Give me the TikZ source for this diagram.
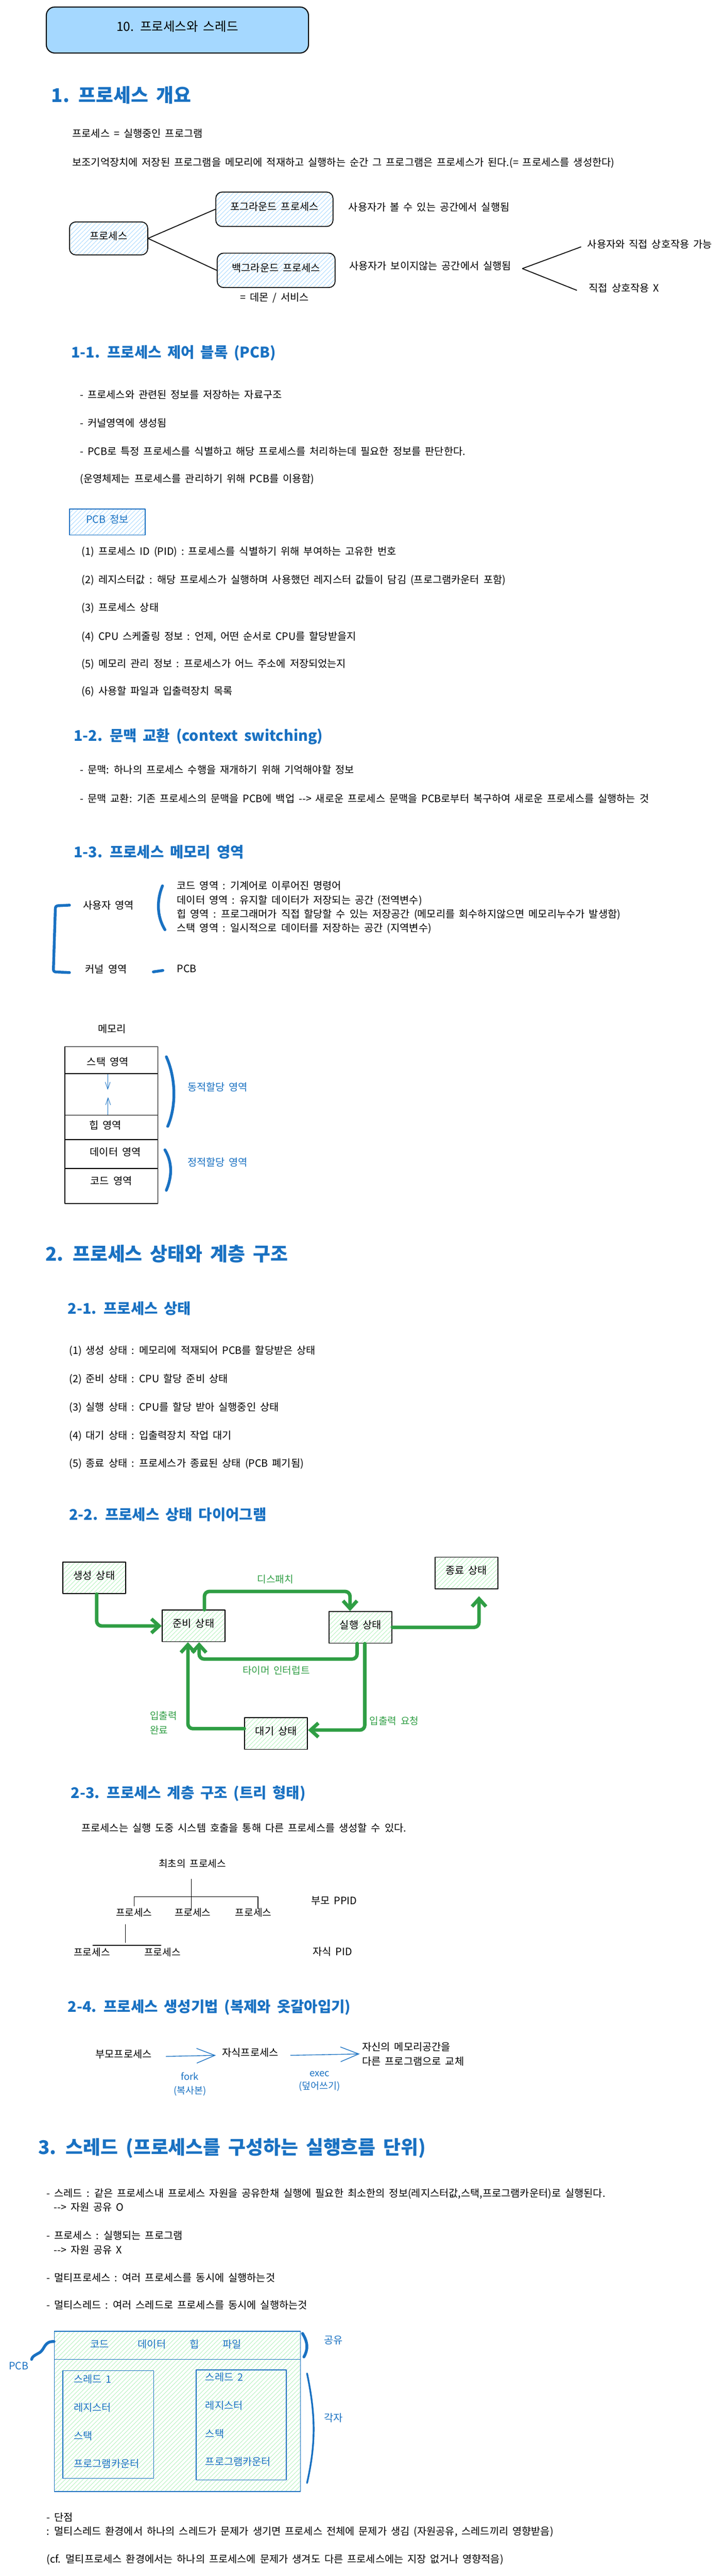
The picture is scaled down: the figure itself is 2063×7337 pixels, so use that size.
\documentclass[tikz,border=0pt]{standalone}
\usepackage{fontspec}
\setmainfont{Noto Sans CJK KR}[WordSpace=1.8]
\usetikzlibrary{arrows.meta,patterns.meta,calc}

\begin{document}
\begin{tikzpicture}[x=1pt, y=-1pt, line width=2.5pt, line join=round,
    base/.style={inner sep=0pt, font=\fontsize{29}{40}\selectfont},
    txt/.style={base, text height=0.85em, text depth=0.1em},
    lft/.style={txt, anchor=west},
    head/.style={lft, text=headcolor, font=\fontsize{54}{60}\selectfont\bfseries},
    subhead/.style={lft, text=headcolor, font=\fontsize{42}{48}\selectfont\bfseries},
    bluetxt/.style={txt, text=headcolor},
    greentxt/.style={txt, text=arrowcolor},
    procbox/.style={txt, draw, rounded corners=18pt, pattern={Lines[angle=45,distance=9pt,line width=1.3pt]}, pattern color=hatchblue},
    statebox/.style={txt, draw, minimum width=179pt, minimum height=90pt, pattern={Lines[angle=45,distance=9pt,line width=1.3pt]}, pattern color=hatchgreen},
    garrow/.style={draw=arrowcolor, line width=10pt, rounded corners=14pt, line cap=round, -{Straight Barb[length=22pt,width=40pt]}},
    barrow/.style={draw=headcolor, line width=2pt, -{Straight Barb[length=52pt,width=42pt]}},
    bluestroke/.style={draw=headcolor, line width=8pt, line cap=round}]
    \definecolor{headcolor}{HTML}{1971C2}
    \definecolor{arrowcolor}{HTML}{2F9E44}
    \definecolor{titlefill}{HTML}{A5D8FF}
    \definecolor{hatchblue}{HTML}{A5D8FF}
    \definecolor{hatchgreen}{HTML}{B2F2BB}

    \path[use as bounding box, fill=white] (0,0) rectangle (2063,7337);

    \node[txt, draw, line width=3pt, fill=titlefill, rounded corners=24pt, minimum width=747pt, minimum height=131pt, font=\fontsize{36}{40}\selectfont] (title) at (505.5,85.5) {10. 프로세스와 스레드};

    % 1. overview
    \node[head] (sec1) at (145,287) {1. 프로세스 개요};
    \node[lft] (procdef) at (205,387) {프로세스 = 실행중인 프로그램};
    \node[lft] (procload) at (205,469) {보조기억장치에 저장된 프로그램을 메모리에 적재하고 실행하는 순간 그 프로그램은 프로세스가 된다.(= 프로세스를 생성한다)};

    \node[procbox, minimum width=223pt, minimum height=94pt] (proc) at (309.5,679) {프로세스};
    \node[procbox, minimum width=334pt, minimum height=98pt] (fg) at (782,596) {포그라운드 프로세스};
    \node[procbox, minimum width=336pt, minimum height=98pt] (bg) at (787,770) {백그라운드 프로세스};
    \draw (proc.east) -- (fg.west);
    \draw (proc.east) -- (bg.west);
    \node[lft] (fgnote) at (992,597) {사용자가 볼 수 있는 공간에서 실행됨};
    \node[lft] (bgnote) at (994,765) {사용자가 보이지않는 공간에서 실행됨};
    \node[txt] (daemon) at (782,854) {= 데몬 / 서비스};
    \node[lft] (inter) at (1673,703) {사용자와 직접 상호작용 가능};
    \node[lft] (nointer) at (1677,827) {직접 상호작용 X};
    \coordinate (split) at ([xshift=30pt]bgnote.east);
    \draw (split) -- ([xshift=-17pt]inter.west);
    \draw (split) -- ([xshift=-33pt]nointer.west);

    % 1-1. PCB
    \node[subhead] (sec11) at (202,1015) {1-1. 프로세스 제어 블록 (PCB)};
    \node[lft] (pcb1) at (227,1131) {- 프로세스와 관련된 정보를 저장하는 자료구조};
    \node[lft] (pcb2) at (227,1212) {- 커널영역에 생성됨};
    \node[lft] (pcb3) at (227,1292) {- PCB로 특정 프로세스를 식별하고 해당 프로세스를 처리하는데 필요한 정보를 판단한다.};
    \node[lft] (pcb4) at (227,1371) {(운영체제는 프로세스를 관리하기 위해 PCB를 이용함)};
    \node[bluetxt, draw=headcolor, minimum width=216pt, minimum height=74pt, pattern={Lines[angle=45,distance=9pt,line width=1.3pt]}, pattern color=hatchblue] (pcbinfo) at (306,1487) {PCB 정보};
    \node[lft] (info1) at (232,1577) {(1) 프로세스 ID (PID) : 프로세스를 식별하기 위해 부여하는 고유한 번호};
    \node[lft] (info2) at (232,1658) {(2) 레지스터값 : 해당 프로세스가 실행하며 사용했던 레지스터 값들이 담김 (프로그램카운터 포함)};
    \node[lft] (info3) at (232,1738) {(3) 프로세스 상태};
    \node[lft] (info4) at (232,1819) {(4) CPU 스케줄링 정보 : 언제, 어떤 순서로 CPU를 할당받을지};
    \node[lft] (info5) at (232,1897) {(5) 메모리 관리 정보 : 프로세스가 어느 주소에 저장되었는지};
    \node[lft] (info6) at (232,1975) {(6) 사용할 파일과 입출력장치 목록};

    % 1-2. context switching
    \node[subhead] (sec12) at (209,2107) {1-2. 문맥 교환 (context switching)};
    \node[lft] (ctx1) at (227,2200) {- 문맥: 하나의 프로세스 수행을 재개하기 위해 기억해야할 정보};
    \node[lft] (ctx2) at (227,2281) {- 문맥 교환: 기존 프로세스의 문맥을 PCB에 백업 -{}-{}> 새로운 프로세스 문맥을 PCB로부터 복구하여 새로운 프로세스를 실행하는 것};

    % 1-3. memory areas
    \node[subhead] (sec13) at (209,2439) {1-3. 프로세스 메모리 영역};
    \node[lft] (userarea) at (235,2585) {사용자 영역};
    \node[lft] (codeline) at (503,2530) {코드 영역 : 기계어로 이루어진 명령어};
    \node[lft] (dataline) at (503,2571) {데이터 영역 : 유지할 데이터가 저장되는 공간 (전역변수)};
    \node[lft] (heapline) at (503,2610) {힙 영역 : 프로그래머가 직접 할당할 수 있는 저장공간 (메모리를 회수하지않으면 메모리누수가 발생함)};
    \node[lft] (stackline) at (503,2650) {스택 영역 : 일시적으로 데이터를 저장하는 공간 (지역변수)};
    \draw[bluestroke] (463,2523) .. controls (446,2565) and (447,2610) .. (470,2648);
    \draw[bluestroke, rounded corners=6pt] (198,2578) -- (158,2580) -- (152,2768) -- (198,2770);
    \node[lft] (kernel) at (242,2768) {커널 영역};
    \draw[bluestroke] (437,2768) -- (464,2764);
    \node[lft] (pcbk) at (503,2766) {PCB};

    \node[txt] (memlabel) at (319,2938) {메모리};
    \draw[line width=2pt] (185,2981) rectangle (450,3428);
    \draw[line width=2pt] (185,3058) -- (450,3058);
    \draw[line width=2pt] (185,3176) -- (450,3176);
    \draw[line width=2pt] (185,3246) -- (450,3246);
    \draw[line width=2pt] (185,3328) -- (450,3328);
    \node[txt] (stackarea) at (307,3032) {스택 영역};
    \node[txt] (heaparea) at (300,3212) {힙 영역};
    \node[txt] (dataarea) at (329,3289) {데이터 영역};
    \node[txt] (codearea) at (317,3371) {코드 영역};
    \coordinate (stacktop) at (307,3059);
    \coordinate (stackend) at (307,3104);
    \coordinate (heaptop) at (308,3175);
    \coordinate (heapend) at (308,3125);
    \draw[draw=headcolor, line width=1.3pt, -{Straight Barb[length=20pt,width=14pt]}] (stacktop) -- (stackend);
    \draw[draw=headcolor, line width=1.3pt, -{Straight Barb[length=20pt,width=14pt]}] (heaptop) -- (heapend);
    \draw[bluestroke] (474,3010) .. controls (501,3070) and (503,3150) .. (478,3208);
    \draw[bluestroke] (470,3275) .. controls (491,3310) and (491,3350) .. (474,3390);
    \node[bluetxt, anchor=west] (dyn) at (533,3104) {동적할당 영역};
    \node[bluetxt, anchor=west] (static) at (533,3318) {정적할당 영역};

    % 2. states
    \node[head] (sec2) at (128,3587) {2. 프로세스 상태와 계층 구조};
    \node[subhead] (sec21) at (192,3739) {2-1. 프로세스 상태};
    \node[lft] (st1) at (196,3853) {(1) 생성 상태 : 메모리에 적재되어 PCB를 할당받은 상태};
    \node[lft] (st2) at (196,3934) {(2) 준비 상태 : CPU 할당 준비 상태};
    \node[lft] (st3) at (196,4014) {(3) 실행 상태 : CPU를 할당 받아 실행중인 상태};
    \node[lft] (st4) at (196,4095) {(4) 대기 상태 : 입출력장치 작업 대기};
    \node[lft] (st5) at (196,4175) {(5) 종료 상태 : 프로세스가 종료된 상태 (PCB 폐기됨)};

    % 2-2. state diagram
    \node[subhead] (sec22) at (196,4326) {2-2. 프로세스 상태 다이어그램};
    \node[statebox] (new) at (268.5,4494) {생성 상태};
    \node[statebox] (ready) at (551.5,4631) {준비 상태};
    \node[statebox] (run) at (1027.5,4635) {실행 상태};
    \node[statebox] (done) at (1329,4480) {종료 상태};
    \node[statebox] (wait) at (787,4937.5) {대기 상태};
    \draw[garrow] ([xshift=7pt]new.south) |- (ready.west);
    \draw[garrow] ([xshift=31pt]ready.north) -- ++(0,-52) -| ([xshift=-30pt]run.north);
    \draw[garrow, shorten >=20pt] (run.east) -| ([xshift=36pt]done.south);
    \draw[garrow] ([xshift=-10pt]run.south) -- ++(0,44) -| ([xshift=16pt]ready.south);
    \draw[garrow] ([xshift=12pt]run.south) |- ($(wait.east)+(0,-10)$);
    \draw[garrow] ($(wait.west)+(0,-14)$) -| ([xshift=-16pt]ready.south);
    \node[greentxt, font=\fontsize{28}{40}\selectfont] (dispatch) at (785,4505) {디스패치};
    \node[greentxt, font=\fontsize{28}{40}\selectfont] (timer) at (787,4765) {타이머 인터럽트};
    \node[greentxt, anchor=west, font=\fontsize{28}{40}\selectfont] (ioreq) at (1052,4909) {입출력 요청};
    \node[base, text=arrowcolor, anchor=west, align=left, font=\fontsize{28}{40}\selectfont] (iodone) at (426,4907) {입출력\\완료};

    % 2-3. tree
    \node[subhead] (sec23) at (201,5118) {2-3. 프로세스 계층 구조 (트리 형태)};
    \node[lft] (spawn) at (231,5213) {프로세스는 실행 도중 시스템 호출을 통해 다른 프로세스를 생성할 수 있다.};
    \node[txt, font=\fontsize{28}{40}\selectfont] (root) at (548,5315) {최초의 프로세스};
    \node[txt, font=\fontsize{28}{40}\selectfont] (c1) at (382,5454) {프로세스};
    \node[txt, font=\fontsize{28}{40}\selectfont] (c2) at (549,5454) {프로세스};
    \node[txt, font=\fontsize{28}{40}\selectfont] (c3) at (722,5454) {프로세스};
    \node[txt, font=\fontsize{28}{40}\selectfont] (g1) at (262,5567) {프로세스};
    \node[txt, font=\fontsize{28}{40}\selectfont] (g2) at (463,5567) {프로세스};
    \draw[line width=1.5pt] ([xshift=-3pt,yshift=-30pt]root.south) -- ([xshift=-4pt,yshift=7pt]c2.north);
    \draw[line width=2pt] ([yshift=18pt]c1.north) -- ++(0,-28) -- ([xshift=13pt,yshift=46pt]c3.north) -- ([xshift=13pt,yshift=12pt]c3.north);
    \draw[line width=1.5pt] ([xshift=-25pt,yshift=-21pt]c1.south) -- ++(0,52);
    \draw[line width=2pt] ([xshift=2pt,yshift=20pt]g1.north) -- ([xshift=-3pt,yshift=20pt]g2.north);
    \node[lft] (ppid) at (886,5420) {부모 PPID};
    \node[lft] (pid) at (890,5566) {자식 PID};

    % 2-4. fork / exec
    \node[subhead] (sec24) at (192,5727) {2-4. 프로세스 생성기법 (복제와 옷갈아입기)};
    \node[lft] (parent) at (271,5857) {부모프로세스};
    \node[lft] (child) at (632,5854) {자식프로세스};
    \node[base, anchor=west, align=left, font=\fontsize{29}{41}\selectfont] (replace) at (1031,5850) {자신의 메모리공간을\\다른 프로그램으로 교체};
    \draw[barrow] ([xshift=39pt]parent.east) -- ([xshift=-17pt]child.west);
    \draw[barrow] ([xshift=33pt]child.east) -- ([xshift=-6pt]replace.west);
    \node[base, text=headcolor, align=center, font=\fontsize{27}{40}\selectfont] (fork) at (541,5936) {fork\\(복사본)};
    \node[base, text=headcolor, align=center, font=\fontsize{27}{36}\selectfont] (exec) at (911,5928) {exec\\(덮어쓰기)};

    % 3. threads
    \node[head] (sec3) at (108,6132) {3. 스레드 (프로세스를 구성하는 실행흐름 단위)};
    \node[lft] (th1) at (132,6254) {- 스레드 : 같은 프로세스내 프로세스 자원을 공유한채 실행에 필요한 최소한의 정보(레지스터값,스택,프로그램카운터)로 실행된다.};
    \node[lft] (th1b) at (152,6294) {-{}-{}> 자원 공유 O};
    \node[lft] (th2) at (132,6374) {- 프로세스 : 실행되는 프로그램};
    \node[lft] (th2b) at (152,6415) {-{}-{}> 자원 공유 X};
    \node[lft] (th3) at (132,6495) {- 멀티프로세스 : 여러 프로세스를 동시에 실행하는것};
    \node[lft] (th4) at (132,6573) {- 멀티스레드 : 여러 스레드로 프로세스를 동시에 실행하는것};

    \draw[draw=headcolor, line width=2pt, pattern={Lines[angle=45,distance=9pt,line width=1.3pt]}, pattern color=hatchgreen] (155,6640) rectangle (856,7096);
    \draw[draw=headcolor, line width=2.5pt] (155,6720) -- (856,6720);
    \draw[draw=headcolor, line width=2pt] (179,6752) rectangle (438,7059);
    \draw[draw=headcolor, line width=2pt] (559,6750) rectangle (816,7063);
    \node[bluetxt] (code) at (284,6684) {코드};
    \node[bluetxt] (data) at (433,6684) {데이터};
    \node[bluetxt] (heap) at (554,6684) {힙};
    \node[bluetxt] (file) at (661,6684) {파일};
    \node[bluetxt, anchor=west] (t1name) at (209,6784) {스레드 1};
    \node[bluetxt, anchor=west] (t1reg) at (209,6864) {레지스터};
    \node[bluetxt, anchor=west] (t1stack) at (209,6945) {스택};
    \node[bluetxt, anchor=west] (t1pc) at (209,7025) {프로그램카운터};
    \node[bluetxt, anchor=west] (t2name) at (584,6778) {스레드 2};
    \node[bluetxt, anchor=west] (t2reg) at (584,6859) {레지스터};
    \node[bluetxt, anchor=west] (t2stack) at (584,6939) {스택};
    \node[bluetxt, anchor=west] (t2pc) at (584,7019) {프로그램카운터};
    \draw[bluestroke] (862,6646) .. controls (878,6672) and (878,6692) .. (866,6713);
    \draw[bluestroke, line width=5pt] (875,6760) .. controls (900,6880) and (900,6960) .. (875,7072);
    \node[bluetxt] (shared) at (950,6672) {공유};
    \node[bluetxt] (own) at (950,6894) {각자};
    \draw[bluestroke] (154,6669) .. controls (126,6668) and (128,6690) .. (114,6700) .. controls (96,6710) and (92,6712) .. (90,6720);
    \node[bluetxt] (pcbt) at (53,6746) {PCB};

    \node[lft] (con1) at (132,7177) {- 단점};
    \node[lft] (con2) at (132,7217) {: 멀티스레드 환경에서 하나의 스레드가 문제가 생기면 프로세스 전체에 문제가 생김 (자원공유, 스레드끼리 영향받음)};
    \node[lft] (cf) at (132,7296) {(cf. 멀티프로세스 환경에서는 하나의 프로세스에 문제가 생겨도 다른 프로세스에는 지장 없거나 영향적음)};
\end{tikzpicture}
\end{document}
